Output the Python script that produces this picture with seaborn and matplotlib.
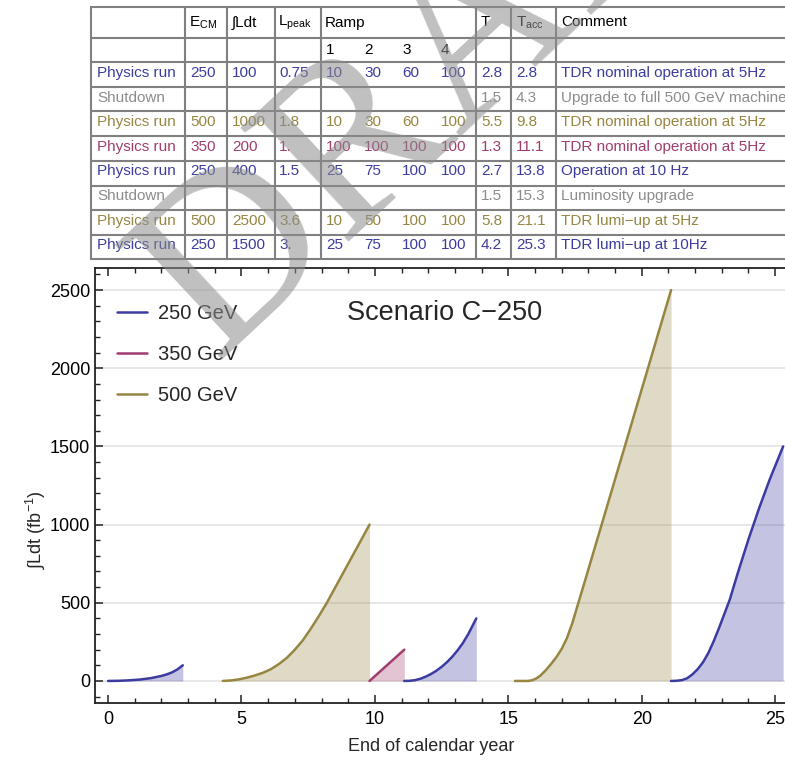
import numpy as np
import pandas as pd
import matplotlib
matplotlib.use("Agg")
import matplotlib.pyplot as plt
from matplotlib.lines import Line2D
from matplotlib.ticker import MultipleLocator
import seaborn as sns

# ---------------- data ----------------
run_energy = ["250 GeV", "500 GeV", "350 GeV", "250 GeV", "500 GeV", "250 GeV"]
run1_t = [0.0, 0.4, 0.8, 1.2, 1.6, 2.0, 2.2, 2.4, 2.6, 2.8]
run1_L = [0, 1, 4, 9, 18, 32, 42, 55, 74, 100]
run2_t = [4.3, 4.6, 4.9, 5.2, 5.5, 5.8, 6.1, 6.4, 6.7, 7.0, 7.3, 7.6, 7.9, 8.2,
          8.6, 9.0, 9.4, 9.8]
run2_L = [0, 3, 10, 21, 35, 52, 75, 108, 148, 200, 260, 335, 415, 500,
          625, 750, 875, 1000]
run3_t = [9.8, 11.1]
run3_L = [0, 200]
run4_t = [11.1, 11.3, 11.5, 11.7, 11.9, 12.1, 12.3, 12.5, 12.7, 12.9, 13.1,
          13.3, 13.5, 13.65, 13.8]
run4_L = [0, 1, 5, 14, 27, 44, 65, 90, 120, 155, 196, 243, 300, 350, 400]
run5_t = [15.25, 15.75, 15.9, 16.05, 16.2, 16.4, 16.6, 16.8, 17.0, 17.2, 17.4,
          17.6, 17.8, 18.0, 18.5, 19.0, 19.5, 20.0, 20.5, 21.1]
run5_L = [0, 0, 5, 16, 34, 68, 108, 152, 205, 275, 370, 485, 598, 713,
          1001, 1289, 1577, 1865, 2153, 2500]
run6_t = [21.1, 21.3, 21.5, 21.7, 21.9, 22.1, 22.3, 22.5, 22.7, 22.9, 23.1,
          23.3, 23.6, 24.0, 24.4, 24.8, 25.3]
run6_L = [0, 1, 5, 17, 42, 76, 120, 180, 255, 340, 430, 520, 690, 905,
          1105, 1290, 1500]

legend_labels = ["250 GeV", "350 GeV", "500 GeV"]
title_text = "Scenario C\u2212250"

# table
tbl_phase = ["Physics run", "Shutdown", "Physics run", "Physics run",
             "Physics run", "Shutdown", "Physics run", "Physics run"]
tbl_kind = ["250", "shut", "500", "350", "250", "shut", "500", "250"]
tbl_ecm = ["250", "", "500", "350", "250", "", "500", "250"]
tbl_lint = ["100", "", "1000", "200", "400", "", "2500", "1500"]
tbl_lpeak = ["0.75", "", "1.8", "1.", "1.5", "", "3.6", "3."]
tbl_ramp = [["10", "30", "60", "100"], [], ["10", "30", "60", "100"],
            ["100", "100", "100", "100"], ["25", "75", "100", "100"], [],
            ["10", "50", "100", "100"], ["25", "75", "100", "100"]]
tbl_T = ["2.8", "1.5", "5.5", "1.3", "2.7", "1.5", "5.8", "4.2"]
tbl_Tacc = ["2.8", "4.3", "9.8", "11.1", "13.8", "15.3", "21.1", "25.3"]
tbl_comment = ["TDR nominal operation at 5Hz", "Upgrade to full 500 GeV machine",
               "TDR nominal operation at 5Hz", "TDR nominal operation at 5Hz",
               "Operation at 10 Hz", "Luminosity upgrade",
               "TDR lumi\u2212up at 5Hz", "TDR lumi\u2212up at 10Hz"]
tbl_head = ["E$_{\\mathrm{CM}}$", "\u222BLdt", "L$_{\\mathrm{peak}}$", "Ramp",
            "T", "T$_{\\mathrm{acc}}$", "Comment"]
tbl_subhead = ["1", "2", "3", "4"]

# ---------------- style ----------------
sns.set_style("white")
plt.rcParams["font.family"] = ["Liberation Sans", "DejaVu Sans"]
plt.rcParams["mathtext.fontset"] = "custom"
plt.rcParams["mathtext.rm"] = "Liberation Sans"
plt.rcParams["mathtext.it"] = "Liberation Sans:italic"
plt.rcParams["mathtext.bf"] = "Liberation Sans:bold"

C_BLUE = "#3c3ca0"
C_RED = "#a03c6e"
C_OLIVE = "#968641"
C_GRAY = "#8c8c8c"
palette = {"250 GeV": C_BLUE, "350 GeV": C_RED, "500 GeV": C_OLIVE}
kind_color = {"250": C_BLUE, "350": C_RED, "500": C_OLIVE, "shut": C_GRAY}

W, H = 785, 761
fig = plt.figure(figsize=(W / 100, H / 100), dpi=100)

# chart axes (pixel layout)
L_px, R_px, T_px, B_px = 95, 785, 268, 703
ax = fig.add_axes([L_px / W, 1 - B_px / H, (R_px - L_px) / W, (B_px - T_px) / H])

runs_t = [run1_t, run2_t, run3_t, run4_t, run5_t, run6_t]
runs_L = [run1_L, run2_L, run3_L, run4_L, run5_L, run6_L]
frames = []
for i, (tt, ll) in enumerate(zip(runs_t, runs_L)):
    frames.append(pd.DataFrame({"t": tt, "L": ll, "run": i, "energy": run_energy[i]}))
df = pd.concat(frames, ignore_index=True)

for i, (tt, ll) in enumerate(zip(runs_t, runs_L)):
    ax.fill_between(tt, ll, 0, color=palette[run_energy[i]], alpha=0.3, lw=0, zorder=2)

sns.lineplot(data=df, x="t", y="L", hue="energy", units="run", estimator=None,
             sort=False, palette=palette, lw=1.8, legend=False, ax=ax, zorder=3)

ax.set_xlim(-0.49, 25.37)
ax.set_ylim(-141, 2641)
ax.xaxis.set_major_locator(MultipleLocator(5))
ax.xaxis.set_minor_locator(MultipleLocator(1))
ax.yaxis.set_major_locator(MultipleLocator(500))
ax.yaxis.set_minor_locator(MultipleLocator(100))
ax.grid(axis="y", which="major", color="#e4e4e4", lw=1.2, zorder=0)
ax.set_axisbelow(True)
ax.tick_params(which="both", direction="in", top=True, bottom=True, left=True,
               right=False, colors="#222222", labelcolor="black", labelsize=13)
ax.tick_params(which="major", length=6, width=1.1)
ax.tick_params(which="minor", length=3.5, width=1.0)
ax.tick_params(axis="x", pad=6)
ax.tick_params(axis="y", pad=3.5)
for s in ["left", "bottom", "top"]:
    ax.spines[s].set_color("#222222")
    ax.spines[s].set_linewidth(1.3)
ax.spines["right"].set_visible(False)

ax.set_xlabel("End of calendar year", fontsize=13)
ax.set_ylabel("\u222BLdt (fb$^{-1}$)", fontsize=13)
ax.xaxis.set_label_coords((431 - L_px) / (R_px - L_px), (B_px - 738) / (B_px - T_px))
ax.yaxis.set_label_coords((48 - L_px) / (R_px - L_px), (B_px - 530) / (B_px - T_px))

ax.text((347 - L_px) / (R_px - L_px), (B_px - 313) / (B_px - T_px), title_text,
        transform=ax.transAxes, fontsize=19.5, va="center", ha="left")

handles = [Line2D([0], [0], color=palette[k], lw=1.8) for k in legend_labels]
ax.legend(handles, legend_labels, loc="upper left",
          bbox_to_anchor=((117 - L_px) / (R_px - L_px), (B_px - 304) / (B_px - T_px)),
          frameon=False, fontsize=14.5, handlelength=1.5, handletextpad=0.55,
          labelspacing=1.1, borderpad=0, borderaxespad=0)

# ---------------- table (overlay axes in pixel coords) ----------------
ov = fig.add_axes([0, 0, 1, 1], zorder=5)
ov.set_xlim(0, W)
ov.set_ylim(H, 0)
ov.axis("off")
ov.patch.set_alpha(0)

hlines_y = [7.3, 37.7, 61.7, 86.7, 111, 135.7, 160.7, 185.7, 210, 235, 259]
vlines_x = [90.7, 185, 227.3, 275, 321, 475.7, 511, 556]
for y in hlines_y:
    ov.plot([90, W + 5], [y, y], color="#808080", lw=1.5, solid_capstyle="butt")
for x in vlines_x:
    ov.plot([x, x], [hlines_y[0], hlines_y[-1]], color="#808080", lw=1.5,
            solid_capstyle="butt")

fs = 11
head_x = [189, 232, 278, 325, 481, 516, 561]
for x, s in zip(head_x, tbl_head):
    ov.text(x, 22.5, s, fontsize=fs, ha="left", va="center", color="black")
ramp_x = [326, 364, 402, 441]
for x, s in zip(ramp_x, tbl_subhead):
    ov.text(x, 49.5, s, fontsize=fs, ha="left", va="center", color="black")

for i in range(len(tbl_phase)):
    y = 73.0 + 24.6 * i
    c = kind_color[tbl_kind[i]]
    ov.text(97, y, tbl_phase[i], fontsize=fs, ha="left", va="center", color=c)
    ov.text(190, y, tbl_ecm[i], fontsize=fs, ha="left", va="center", color=c)
    ov.text(232, y, tbl_lint[i], fontsize=fs, ha="left", va="center", color=c)
    ov.text(279, y, tbl_lpeak[i], fontsize=fs, ha="left", va="center", color=c)
    for x, s in zip(ramp_x, tbl_ramp[i]):
        ov.text(x, y, s, fontsize=fs, ha="left", va="center", color=c)
    ov.text(481, y, tbl_T[i], fontsize=fs, ha="left", va="center", color=c)
    ov.text(516, y, tbl_Tacc[i], fontsize=fs, ha="left", va="center", color=c)
    ov.text(561, y, tbl_comment[i], fontsize=fs, ha="left", va="center", color=c)

# watermark
ov.text(215, 360, "DRAFT", fontsize=172, family="Liberation Serif", color="#8c8c8c",
        alpha=0.55, rotation=43, ha="left", va="baseline", rotation_mode="anchor",
        zorder=10)

fig.savefig("out.png", dpi=100)
